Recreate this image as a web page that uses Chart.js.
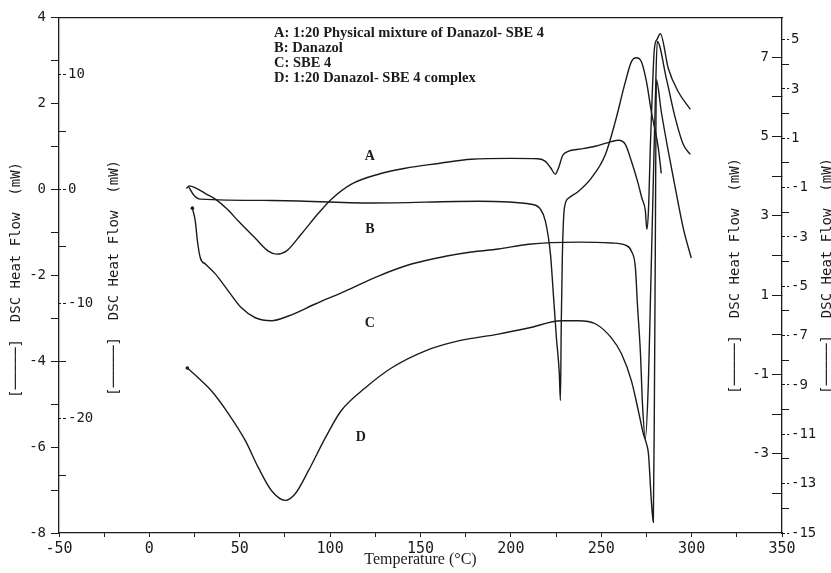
<!DOCTYPE html>
<html>
<head>
<meta charset="utf-8">
<script src="https://cdn.jsdelivr.net/npm/chart.js@4.4.1/dist/chart.umd.min.js"></script>
<style>
  html, body { margin: 0; padding: 0; background: #fff; }
  #wrap { position: relative; width: 831px; height: 573px; }
</style>
</head>
<body>
<div id="wrap"><canvas id="dsc"></canvas></div>
<script>
// ── Data: temperature (°C) and heat flow read on the left mW scale ───────────
const tempA = [20.5, 22, 26, 31, 36.5, 43, 49.2, 58.6, 65.8, 70.3, 75.8, 84.1, 93.5, 100.7, 111.8, 126.7, 141.6, 159.9, 178.1, 200, 215, 219.1, 222, 224.6, 226.3, 229, 237.3, 246.7, 255.6, 259.5, 263.4, 266.7, 270.5, 272.5, 274.4, 275.2, 276.1, 277.2, 278.2, 279.4, 281, 282.7, 287.1, 292.6, 299.3];
const flowA = [0.02, 0.08, 0.02, -0.1, -0.23, -0.46, -0.74, -1.14, -1.44, -1.51, -1.44, -1.04, -0.56, -0.23, 0.12, 0.35, 0.49, 0.6, 0.7, 0.72, 0.71, 0.65, 0.5, 0.35, 0.49, 0.81, 0.93, 1.0, 1.11, 1.14, 1.04, 0.65, 0.12, -0.21, -0.5, -0.93, -0.51, 1.04, 2.21, 3.27, 3.5, 3.62, 2.81, 2.27, 1.86];

const tempB = [21.6, 24.3, 28.2, 67.5, 122.8, 182, 211.3, 216.3, 219.1, 221.9, 223.5, 225.2, 226.8, 227.4, 227.9, 228.5, 229.6, 231.8, 237.3, 244.5, 252.3, 257.8, 263.4, 266.7, 269.4, 272.2, 275, 277.7, 281.6, 283.2];
const flowB = [0.07, -0.12, -0.23, -0.26, -0.32, -0.28, -0.35, -0.46, -0.74, -1.51, -2.44, -3.46, -4.29, -4.92, -3.06, -1.51, -0.44, -0.21, -0.05, 0.26, 0.81, 1.58, 2.51, 2.97, 3.06, 2.97, 2.51, 1.81, 0.95, 0.37];

const tempC = [23.8, 25.4, 26.6, 28.2, 31, 36.5, 43.7, 50.9, 58.6, 67.5, 76.9, 91.8, 108.4, 126.7, 145, 163.8, 178.1, 193.1, 209.7, 237.3, 255.6, 263.4, 266.7, 268.9, 270, 271.7, 272.8, 274.4, 276.1, 277.2, 278.8, 279.9, 281, 286, 291, 295.4, 299.3];
const flowC = [-0.44, -0.74, -1.21, -1.6, -1.74, -1.97, -2.37, -2.76, -2.99, -3.06, -2.95, -2.67, -2.37, -2.02, -1.74, -1.56, -1.46, -1.39, -1.28, -1.23, -1.25, -1.3, -1.44, -1.83, -2.67, -3.83, -4.99, -5.8, -4.46, -2.6, 0.19, 2.04, 3.44, 2.58, 1.65, 1.04, 0.81];

const tempD = [21, 27.1, 34.3, 43.7, 53.1, 60.3, 67.5, 75.2, 80.8, 88, 97.4, 106.2, 119.5, 133.9, 152.7, 171, 193.1, 209.7, 227.9, 237.3, 246.7, 255.6, 261.2, 266.7, 270.5, 273.3, 275, 276.1, 277.7, 278.8, 279.4, 279.9, 280.5, 283.2, 287.1, 291, 295.4, 299.8];
const flowD = [-4.16, -4.39, -4.69, -5.22, -5.85, -6.48, -7.01, -7.24, -7.08, -6.55, -5.78, -5.15, -4.62, -4.16, -3.76, -3.53, -3.37, -3.23, -3.06, -3.06, -3.13, -3.46, -3.83, -4.46, -5.15, -5.69, -5.92, -6.15, -7.24, -7.75, -4.92, -1.44, 2.55, 1.81, 0.88, 0.02, -0.91, -1.6];

// ── Tick labels ──────────────────────────────────────────────────────────────
const xTicks = [-50, 0, 50, 100, 150, 200, 250, 300, 350];
const xMinor = [-25, 25, 75, 125, 175, 225, 275, 325];
const leftTicks = [4, 2, 0, -2, -4, -6, -8];
const leftMinor = [3, 1, -1, -3, -5, -7];
const innerLeftTicks = [10, 0, -10, -20];
const innerLeftMinor = [5, -5, -15, -25];
const innerRightTicks = [7, 5, 3, 1, -1, -3];
const innerRightMinor = [6, 4, 2, 0, -2, -4];
const rightTicks = [5, 3, 1, -1, -3, -5, -7, -9, -11, -13, -15];
const rightMinor = [4, 2, 0, -2, -4, -6, -8, -10, -12, -14];

// ── Texts ────────────────────────────────────────────────────────────────────
const curveLabels = ['A', 'B', 'C', 'D'];
const labelTemps = [122, 122, 122, 117];
const labelFlows = [0.76, -0.93, -3.13, -5.78];
const legendLines = [
  'A: 1:20 Physical mixture of Danazol- SBE 4',
  'B: Danazol',
  'C: SBE 4',
  'D: 1:20 Danazol- SBE 4 complex'
];
const yTitle = '[\u2500\u2500\u2500\u2500\u2500]  DSC Heat Flow  (mW)';
const xTitle = 'Temperature (\u00B0C)';

// ── Helpers ──────────────────────────────────────────────────────────────────
const INK = '#1b1b1b';
const MONO = '"DejaVu Sans Mono", monospace';
const SERIF = '"Liberation Serif", "Times New Roman", serif';

const zip = (xs, ys) => xs.map((v, i) => ({ x: v, y: ys[i] }));
const setTicks = (major, minor) => scale => {
  scale.ticks = major.map(v => ({ value: v, lab: true })).concat(minor.map(v => ({ value: v, lab: false })));
};
const tickText = (v, i, ticks) => (ticks[i] && ticks[i].lab) ? String(v) : '';
const dashed = c => (c.tick && c.tick.lab) ? [3, 2] : [];

function curve(xs, ys, dot) {
  return {
    data: zip(xs, ys),
    xAxisID: 'x', yAxisID: 'y',
    borderColor: INK, borderWidth: 1.4,
    pointRadius: c => (dot && c.dataIndex === 0) ? 1.8 : 0,
    pointBackgroundColor: INK, pointBorderWidth: 0,
    cubicInterpolationMode: 'monotone',
    fill: false
  };
}

function yAxis(position, weight, min, max, major, minor, extra) {
  return Object.assign({
    type: 'linear', position, weight, min, max,
    afterBuildTicks: setTicks(major, minor),
    grid: { drawOnChartArea: false, drawTicks: true, tickLength: 8, tickColor: INK, tickWidth: 1 },
    border: { display: true, color: INK, width: 1.3 },
    ticks: { autoSkip: false, callback: tickText, color: INK, padding: 5, font: { family: MONO, size: 14 } }
  }, extra);
}

// ── Text overlay ─────────────────────────────────────────────────────────────
const textPlugin = {
  id: 'texts',
  afterDraw(chart) {
    const { ctx, scales: { x, y } } = chart;
    ctx.save();
    ctx.fillStyle = INK;

    ctx.font = 'bold 14px ' + SERIF;
    ctx.textAlign = 'center';
    ctx.textBaseline = 'middle';
    curveLabels.forEach((t, i) => ctx.fillText(t, x.getPixelForValue(labelTemps[i]), y.getPixelForValue(labelFlows[i])));

    ctx.font = 'bold 14.5px ' + SERIF;
    ctx.textAlign = 'left';
    legendLines.forEach((t, i) => ctx.fillText(t, 274, 33 + i * 15));

    ctx.font = '14px ' + MONO;
    [[16, 398], [114, 396], [735, 394], [827, 394]].forEach(([px, py]) => {
      ctx.save();
      ctx.translate(px, py);
      ctx.rotate(-Math.PI / 2);
      ctx.fillText(yTitle, 0, 0);
      ctx.restore();
    });
    ctx.restore();
  }
};

// ── Chart ────────────────────────────────────────────────────────────────────
new Chart(document.getElementById('dsc'), {
  type: 'line',
  data: {
    datasets: [
      curve(tempA, flowA, false),
      curve(tempB, flowB, false),
      curve(tempC, flowC, true),
      curve(tempD, flowD, true)
    ]
  },
  options: {
    responsive: true,
    maintainAspectRatio: false,
    animation: false,
    layout: { padding: 0 },
    plugins: { legend: { display: false }, tooltip: { enabled: false } },
    scales: {
      x: {
        type: 'linear', position: 'bottom', min: -50, max: 350,
        afterBuildTicks: setTicks(xTicks, xMinor),
        afterFit: s => { s.height = 40; },
        grid: { drawOnChartArea: false, drawTicks: true, tickLength: 4, tickColor: INK },
        border: { display: true, color: INK, width: 1.3 },
        ticks: { autoSkip: false, maxRotation: 0, callback: tickText, color: INK, padding: 3, font: { family: MONO, size: 15 } },
        title: { display: true, text: xTitle, color: INK, font: { family: SERIF, size: 16 }, padding: { top: 0, bottom: 4 } }
      },
      xTop: {
        type: 'linear', position: 'top', min: -50, max: 350,
        afterFit: s => { s.height = 16; },
        grid: { display: false },
        border: { display: true, color: INK, width: 1.3 },
        ticks: { display: false }
      },
      y: yAxis('left', 1, -8, 4, leftTicks, leftMinor, {
        afterFit: s => { s.width = 59; }
      }),
      yInnerLeft: yAxis('left', 0, -30, 15, innerLeftTicks, innerLeftMinor, {
        afterFit: s => { s.width = 0; },
        border: { display: false },
        grid: { drawOnChartArea: false, drawTicks: true, tickLength: -7, tickColor: INK, tickWidth: 1, tickBorderDash: dashed },
        ticks: { autoSkip: false, mirror: true, callback: tickText, color: INK, padding: 9, font: { family: MONO, size: 14 } }
      }),
      yInnerRight: yAxis('right', 0, -5, 8, innerRightTicks, innerRightMinor, {
        afterFit: s => { s.width = 0; },
        border: { display: true, color: INK, width: 1.3 },
        grid: { drawOnChartArea: false, drawTicks: true, tickLength: -10, tickColor: INK, tickWidth: 1 },
        // mirrored right labels sit at left + padding, so a negative padding moves them inside
        ticks: { autoSkip: false, mirror: true, callback: tickText, color: INK, padding: -13, font: { family: MONO, size: 14 } }
      }),
      yRight: yAxis('right', 1, -15, 5.9, rightTicks, rightMinor, {
        afterFit: s => { s.width = 49; },
        border: { display: false },
        grid: { drawOnChartArea: false, drawTicks: true, tickLength: 7, tickColor: INK, tickWidth: 1, tickBorderDash: dashed },
        ticks: { autoSkip: false, callback: tickText, color: INK, padding: 2, font: { family: MONO, size: 14 } }
      })
    }
  },
  plugins: [textPlugin]
});
</script>
</body>
</html>
